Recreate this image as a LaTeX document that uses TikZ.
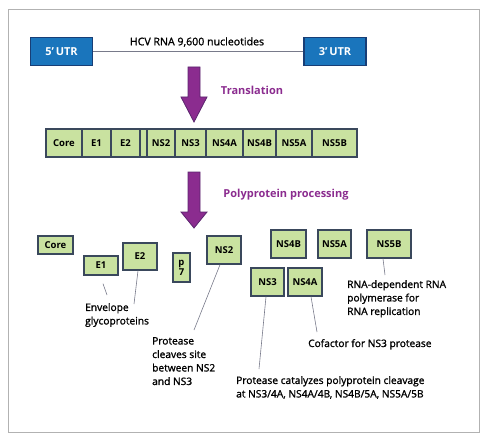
\documentclass[tikz,border=0pt]{standalone}
\usepackage{fontspec}
\setmainfont{Open Sans}
\newfontfamily\semibold{Open Sans}[FakeBold=1.3]
\usetikzlibrary{positioning}

\definecolor{utrblue}{RGB}{26,117,188}
\definecolor{utredge}{RGB}{24,62,118}
\definecolor{protgreen}{RGB}{201,226,160}
\definecolor{protedge}{RGB}{58,72,92}
\definecolor{arrowpurple}{RGB}{139,44,143}
\definecolor{arrowedge}{RGB}{90,38,110}
\definecolor{leadgray}{RGB}{120,122,138}

\begin{document}
\begin{tikzpicture}[x=1pt,y=-1pt,
  utr/.style={draw=utredge,fill=utrblue,line width=1.4pt,text=white,
    minimum width=62pt,minimum height=28pt,inner sep=0pt,
    font=\bfseries\fontsize{11}{13}\selectfont},
  cell/.style={draw=protedge,fill=protgreen,line width=1.2pt,outer sep=0pt,
    minimum height=28pt,inner sep=0pt,font=\bfseries\fontsize{9.5}{12}\selectfont},
  prot/.style={draw=protedge,fill=protgreen,line width=1.4pt,inner sep=0pt,
    font=\bfseries\fontsize{9.5}{12}\selectfont},
  note/.style={anchor=north west,inner sep=0pt,align=left,
    font=\semibold\fontsize{10.2}{13.5}\selectfont},
  step label/.style={text=arrowpurple,font=\bfseries\fontsize{11}{13}\selectfont},
  lead/.style={draw=leadgray,line width=0.6pt}]
\useasboundingbox (0,0) rectangle (484,441);
\draw[draw=black!30,line width=0.8pt] (8,9) rectangle (479,432);

% genome
\node[utr] (utrfive) at (61.5,51.5) {5'\,UTR};
\node[utr] (utrthree) at (335,51.5) {3'\,UTR};
\draw[lead] (utrfive) -- (utrthree);
\node[font=\semibold\fontsize{10.6}{13}\selectfont] (rnatitle) at (197,42) {HCV RNA 9,600 nucleotides};

% big arrows
\foreach \t/\h/\b in {67/97/122,172/212/228}
  \draw[fill=arrowpurple,draw=arrowedge,line width=0.8pt]
    (188,\t) -- (200,\t) -- (200,\h) -- (207,\h) -- (194,\b) -- (181,\h) -- (188,\h) -- cycle;
\node[step label] (translation) at (252,90) {Translation};
\node[step label] (processing) at (286,195) {Polyprotein processing};

% polyprotein
\node[inner sep=0pt,outer sep=0pt,minimum size=0pt] (bar0) at (46,143) {};
\foreach \lab/\w [count=\i, remember=\i as \j (initially 0)] in
  {Core/36,E1/29,E2/29,/7,NS2/28,NS3/31,NS4A/37,NS4B/33,NS5A/36,NS5B/45}
  \node[cell,minimum width=\w pt,anchor=west] (bar\i) at (bar\j.east) {\lab};

% cleaved proteins
\node[prot,minimum width=35pt,minimum height=18pt] (core) at (55.5,245) {Core};
\node[prot,minimum width=34pt,minimum height=19pt] (eone) at (101,265.5) {E1};
\node[prot,minimum width=34pt,minimum height=27pt] (etwo) at (140,256.5) {E2};
\node[prot,minimum width=17pt,minimum height=29pt,align=center,
  font=\bfseries\fontsize{9.5}{10}\selectfont] (pseven) at (181.5,267.5) {p\\7};
\node[prot,minimum width=34pt,minimum height=28pt] (nstwo) at (224,250) {NS2};
\node[prot,minimum width=35pt,minimum height=28pt] (nsfourb) at (288.5,244) {NS4B};
\node[prot,minimum width=33pt,minimum height=28pt] (nsfivea) at (334.5,244) {NS5A};
\node[prot,minimum width=44pt,minimum height=28pt] (nsfiveb) at (389,244) {NS5B};
\node[prot,minimum width=33pt,minimum height=28pt] (nsthree) at (267.5,282) {NS3};
\node[prot,minimum width=34pt,minimum height=28pt] (nsfoura) at (305,282) {NS4A};

% notes
\node[note] (envelope) at (85,303) {Envelope\\glycoproteins};
\node[note] (cleaves) at (152,337) {Protease\\cleaves site\\between NS2\\and NS3};
\node[note] (polymerase) at (347,280) {RNA-dependent RNA\\polymerase for\\RNA replication};
\node[note] (cofactor) at (308,339) {Cofactor for NS3 protease};
\node[note] (catalyzes) at (236,376) {Protease catalyzes polyprotein cleavage\\at NS3/4A, NS4A/4B, NS4B/5A, NS5A/5B};

\coordinate (eoneend) at (107,295);
\coordinate (etwoend) at (134,304);
\coordinate (nstwoend) at (194,330);
\coordinate (nsthreeend) at (259,369);
\coordinate (nsfouraend) at (317,332);
\coordinate (nsfivebend) at (385,275);
\draw[lead] ([xshift=2pt,yshift=-8pt]eone.south) -- (eoneend);
\draw[lead] ([xshift=-2pt]etwo.south) -- (etwoend);
\draw[lead] ([xshift=-4pt]nstwo.south) -- (nstwoend);
\draw[lead] ([xshift=-1.5pt]nsthree.south) -- (nsthreeend);
\draw[lead] ([xshift=6pt]nsfoura.south) -- (nsfouraend);
\draw[lead] ([xshift=-6pt]nsfiveb.south) -- (nsfivebend);
\end{tikzpicture}
\end{document}
